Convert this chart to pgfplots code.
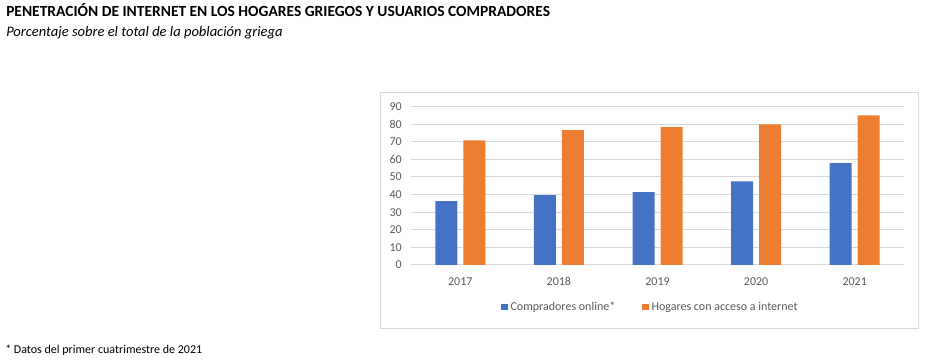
\documentclass[border=0pt]{standalone}
\usepackage{pgfplots}
\pgfplotsset{compat=1.18}
\usepackage{fontspec}
\setmainfont{Carlito}
\definecolor{cblue}{HTML}{4472C4}
\definecolor{corange}{HTML}{ED7D31}
\definecolor{gridc}{HTML}{D9D9D9}
\definecolor{txt}{HTML}{595959}
\begin{document}
\begin{tikzpicture}[x=0.75pt,y=0.75pt]
\path[use as bounding box] (0,0) rectangle (925,360);
\node[anchor=base west,inner sep=0pt,font=\bfseries\fontsize{11.6}{13}\selectfont] at (6,343) {PENETRACIÓN DE INTERNET EN LOS HOGARES GRIEGOS Y USUARIOS COMPRADORES};
\node[anchor=base west,inner sep=0pt,font=\itshape\fontsize{10.9}{13}\selectfont] at (6,323) {Porcentaje sobre el total de la población griega};
\node[anchor=base west,inner sep=0pt,font=\fontsize{9}{11}\selectfont] at (5,6.5) {* Datos del primer cuatrimestre de 2021};
\draw[gridc] (380.5,32) rectangle (918,268);
\begin{axis}[
  at={(308.25pt,71.25pt)}, anchor=south west,
  width=369.75pt, height=118.9pt, scale only axis,
  xmin=-0.5, xmax=4.5, ymin=0, ymax=90,
  ytick={0,10,...,90},
  xtick={0,1,2,3,4}, xticklabels={2017,2018,2019,2020,2021},
  ybar=4.5pt, bar width=16.5pt,
  axis line style={draw=none},
  major tick length=0pt,
  ymajorgrids, grid style={gridc, line width=0.75pt},
  tick label style={font=\fontsize{9}{11}\selectfont, text=txt, inner sep=0pt},
  yticklabel shift=6.75pt,
  xticklabel shift=9pt,
  /pgf/number format/assume math mode=true,
  legend style={at={(0.486,-0.265)}, anchor=center, draw=none, fill=none,
    font=\fontsize{9}{11}\selectfont, text=txt, legend columns=2,
    /tikz/every even column/.append style={column sep=18pt}},
  legend image code/.code={\fill[#1] (0pt,-2.6pt) rectangle (5.2pt,2.6pt);},
]
\addplot[fill=cblue, draw=none] coordinates {(0,36.2) (1,39.6) (2,41.3) (3,47.5) (4,57.8)};
\addplot[fill=corange, draw=none] coordinates {(0,70.8) (1,76.5) (2,78.2) (3,79.9) (4,85.0)};
\legend{Compradores online*, Hogares con acceso a internet}
\end{axis}
\end{tikzpicture}
\end{document}
